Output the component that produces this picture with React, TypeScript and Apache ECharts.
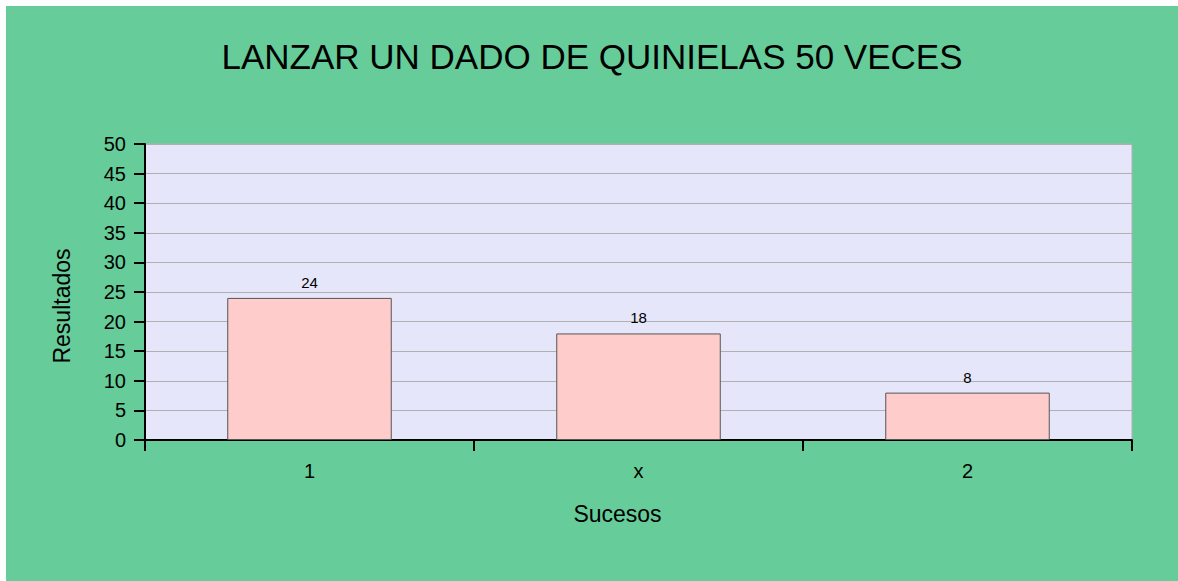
import React, { useEffect, useRef } from "react";
import * as echarts from "echarts";

const categories = ["1", "x", "2"];
const values = [24, 18, 8];
const title = "LANZAR UN DADO DE QUINIELAS 50 VECES";

export default function App() {
  const ref = useRef<HTMLDivElement>(null);
  useEffect(() => {
    const chart = echarts.init(ref.current!, null, { renderer: "svg" });
    const font = "Liberation Sans, Arial, sans-serif";
    chart.setOption({
      animation: false,
      backgroundColor: "#66CC99",
      title: {
        text: title,
        left: "center",
        top: 28,
        textStyle: { fontFamily: font, fontSize: 35, fontWeight: "normal", color: "#000" },
      },
      grid: {
        left: 139,
        top: 138,
        width: 987,
        height: 296,
        show: true,
        backgroundColor: "#E6E6FA",
        borderColor: "#B0B0B0",
        borderWidth: 1,
      },
      xAxis: {
        type: "category",
        data: categories,
        name: "Sucesos",
        nameLocation: "middle",
        nameGap: 62,
        nameTextStyle: { fontFamily: font, fontSize: 23, color: "#000", padding: [0, 42, 0, 0] },
        axisLine: { lineStyle: { color: "#000", width: 2 } },
        axisTick: { show: true, length: 11, lineStyle: { color: "#000", width: 2 } },
        axisLabel: { fontFamily: font, fontSize: 20, color: "#000", margin: 21 },
      },
      yAxis: {
        type: "value",
        min: 0,
        max: 50,
        interval: 5,
        name: "Resultados",
        nameLocation: "middle",
        nameGap: 72,
        nameTextStyle: { fontFamily: font, fontSize: 23, color: "#000", padding: [0, 28, 0, 0] },
        axisLine: { show: true, lineStyle: { color: "#000", width: 2 } },
        axisTick: { show: true, length: 11, lineStyle: { color: "#000", width: 2 } },
        axisLabel: { fontFamily: font, fontSize: 20, color: "#000", margin: 19 },
        splitLine: { lineStyle: { color: "#B0B0B0", width: 1 } },
      },
      series: [
        {
          type: "bar",
          data: values,
          barWidth: "50%",
          itemStyle: { color: "#FFCCCC", borderColor: "#555", borderWidth: 1 },
          label: {
            show: true,
            position: "top",
            distance: 8,
            fontFamily: font,
            fontSize: 15,
            color: "#000",
          },
        },
      ],
    });
    return () => chart.dispose();
  }, []);
  return (
    <div
      ref={ref}
      style={{ position: "absolute", left: 6, top: 6, width: 1172, height: 575 }}
    />
  );
}
